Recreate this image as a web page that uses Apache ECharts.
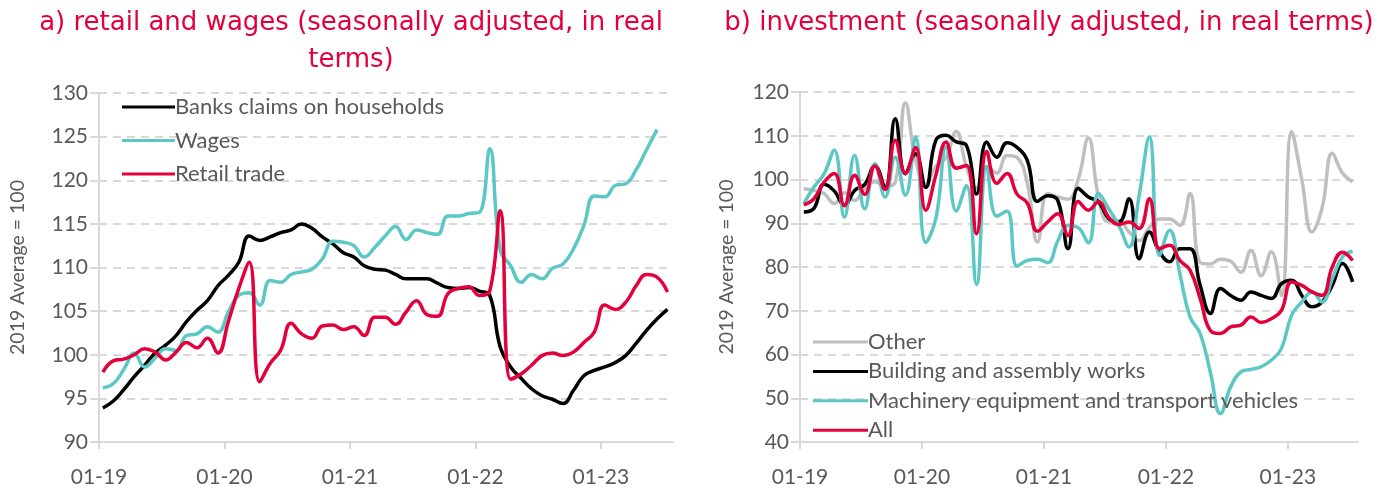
<!DOCTYPE html>
<html>
<head>
<meta charset="utf-8">
<script src="https://cdn.jsdelivr.net/npm/echarts@6/dist/echarts.min.js"></script>
<style>
  html, body { margin: 0; padding: 0; background: #fff; }
  #chart { width: 1386px; height: 488px; }
</style>
</head>
<body>
<div id="chart"></div>
<script>
// monthly observations, 01-19 .. 07-23
const months = [
  '01-19','02-19','03-19','04-19','05-19','06-19','07-19','08-19','09-19','10-19','11-19','12-19',
  '01-20','02-20','03-20','04-20','05-20','06-20','07-20','08-20','09-20','10-20','11-20','12-20',
  '01-21','02-21','03-21','04-21','05-21','06-21','07-21','08-21','09-21','10-21','11-21','12-21',
  '01-22','02-22','03-22','04-22','05-22','06-22','07-22','08-22','09-22','10-22','11-22','12-22',
  '01-23','02-23','03-23','04-23','05-23','06-23','07-23'
];
const tickLabels = ['01-19', '01-20', '01-21', '01-22', '01-23'];

// a) retail and wages
const banksClaims = [93.9, 94.7, 96.0, 97.5, 98.8, 100.2, 101.1, 102.2, 103.8, 105.1,
  106.2, 107.9, 109.1, 110.6, 113.6, 113.1, 113.5, 114.0, 114.3, 115.0,
  114.5, 113.5, 112.7, 111.7, 111.2, 110.2, 109.8, 109.7, 109.2, 108.7,
  108.7, 108.7, 108.2, 107.7, 107.6, 107.7, 107.3, 106.8, 100.9, 98.6,
  97.3, 96.1, 95.3, 94.9, 94.4, 95.9, 97.6, 98.2, 98.6, 99.1,
  99.9, 101.3, 102.8, 104.1, 105.2];
const wages = [96.2, 96.7, 98.3, 100.2, 98.6, 99.6, 100.7, 100.5, 102.2, 102.4,
  103.2, 102.6, 104.9, 106.8, 107.1, 105.7, 108.5, 108.3, 109.2, 109.5,
  109.8, 111.0, 113.0, 112.9, 112.5, 111.2, 112.3, 113.6, 114.7, 113.2,
  114.3, 114.0, 113.8, 115.9, 115.9, 116.2, 116.3, 123.6, 112.0, 110.2,
  108.3, 109.2, 108.7, 109.9, 110.4, 112.1, 114.8, 118.2, 118.1, 119.4,
  119.6, 121.2, 123.5, 125.8];
const retail = [98.0, 99.3, 99.5, 100.0, 100.7, 100.3, 99.4, 100.3, 101.4, 100.8,
  101.9, 100.2, 103.8, 107.6, 110.6, 96.9, 99.0, 100.5, 103.6, 102.4,
  101.9, 103.3, 103.4, 102.9, 103.2, 102.2, 104.3, 104.3, 103.5, 104.9,
  106.2, 104.6, 104.4, 107.0, 107.6, 107.8, 106.8, 107.3, 116.5, 97.2,
  97.8, 98.8, 99.9, 100.2, 99.9, 100.3, 101.4, 102.6, 105.7, 105.2,
  106.0, 107.9, 109.2, 108.9, 107.2];

// b) investment
const other = [97.9, 97.5, 96.8, 94.5, 97.0, 95.2, 98.0, 99.5, 98.5, 99.4,
  117.5, 104.5, 99.0, 103.0, 105.0, 111.0, 103.0, 98.0, 103.0, 101.5,
  105.5, 105.0, 99.0, 85.7, 96.8, 96.0, 95.5, 100.0, 109.5, 96.0,
  90.3, 90.5, 88.0, 86.0, 89.0, 91.0, 91.0, 89.5, 96.8, 81.0,
  80.7, 81.8, 81.3, 78.8, 83.8, 78.0, 83.5, 73.5, 110.9, 100.0,
  88.0, 93.5, 106.0, 101.5, 99.5];
const building = [92.6, 93.4, 98.9, 97.4, 94.1, 97.5, 98.9, 103.2, 98.1, 113.9,
  101.3, 105.9, 98.2, 109.0, 110.1, 108.6, 107.8, 96.7, 108.6, 105.1,
  108.4, 107.3, 104.3, 95.0, 96.3, 95.2, 84.2, 98.0, 96.0, 94.9,
  91.1, 90.3, 95.6, 81.9, 88.0, 83.4, 81.2, 84.2, 84.2, 75.8,
  69.4, 75.1, 73.5, 72.4, 74.3, 73.5, 72.8, 76.2, 77.0, 73.5,
  70.9, 72.0, 75.8, 80.8, 76.6];
const machinery = [94.5, 98.3, 101.3, 106.7, 91.4, 105.5, 93.3, 103.6, 96.0, 105.1,
  96.4, 109.7, 85.6, 91.1, 107.5, 92.8, 98.6, 76.0, 103.0, 91.6,
  92.8, 80.2, 81.5, 81.8, 81.0, 86.0, 89.5, 89.0, 85.5, 96.8,
  93.3, 89.5, 84.6, 96.4, 109.7, 82.7, 88.4, 78.5, 68.6, 64.8,
  56.0, 46.5, 52.6, 56.0, 56.6, 57.2, 58.7, 61.4, 69.0, 72.0,
  74.3, 72.0, 77.3, 82.3, 83.6];
const allInvestment = [94.2, 95.6, 99.4, 101.4, 94.0, 101.0, 96.6, 103.1, 97.7, 109.0,
  101.4, 107.3, 93.0, 101.0, 108.6, 102.6, 103.2, 87.6, 106.4, 99.1,
  101.4, 96.6, 94.6, 88.2, 90.3, 92.2, 87.2, 95.0, 93.0, 94.9,
  91.4, 89.7, 90.3, 88.8, 95.6, 84.2, 85.0, 81.5, 79.3, 72.8,
  65.5, 64.8, 66.3, 66.7, 68.6, 67.3, 68.2, 70.1, 76.6, 75.8,
  74.3, 73.5, 80.0, 83.4, 81.5];

// observations are stamped a little after the start of their month
const midMonth = 0.37;
const xMax = 54.9;

const RED = '#E4003B';
const TEAL = '#5CC8C6';
const GREY_TEXT = '#595959';
const GRID_LINE = '#D9D9D9';

function toPoints(values) {
  return values.map((v, i) => [i + midMonth, v]);
}

function xAxisFor(gridIndex) {
  return {
    type: 'value', gridIndex: gridIndex, min: 0, max: xMax,
    axisLine: { show: true, lineStyle: { color: GRID_LINE, width: 2 } },
    axisTick: { show: true, length: 7, customValues: [0, 12, 24, 36, 48], lineStyle: { color: GRID_LINE, width: 2 } },
    axisLabel: {
      customValues: [0, 12, 24, 36, 48],
      formatter: (v) => tickLabels[Math.round(v / 12)],
      color: GREY_TEXT, fontSize: 21, fontFamily: 'Lato', margin: 25
    },
    splitLine: { show: false }
  };
}

function yAxisFor(gridIndex, min, max, interval, nameGap) {
  return {
    type: 'value', gridIndex: gridIndex, min: min, max: max, interval: interval,
    name: '2019 Average = 100', nameLocation: 'middle', nameGap: nameGap,
    nameTextStyle: { color: GREY_TEXT, fontSize: 19.5, fontFamily: 'Lato' },
    axisLine: { show: true, lineStyle: { color: GRID_LINE, width: 2 } },
    axisTick: { show: true, length: 9, lineStyle: { color: GRID_LINE, width: 2 } },
    axisLabel: { color: GREY_TEXT, fontSize: 21, fontFamily: 'Lato', margin: 11 },
    splitLine: { show: true, lineStyle: { color: GRID_LINE, width: 2, type: [8, 6] } }
  };
}

function line(name, values, color, idx) {
  return {
    name: name, type: 'line', xAxisIndex: idx, yAxisIndex: idx,
    data: toPoints(values), smooth: 0.45, showSymbol: false,
    lineStyle: { color: color, width: 3.5 }, itemStyle: { color: color }
  };
}

const legendText = { color: GREY_TEXT, fontSize: 22, fontFamily: 'Lato', lineHeight: 21, padding: [0, 0, 0, -5] };

const chart = echarts.init(document.getElementById('chart'), null, { renderer: 'canvas' });
chart.setOption({
  animation: false,
  backgroundColor: '#fff',
  title: [
    {
      text: 'a) retail and wages (seasonally adjusted, in real\nterms)',
      left: 346, top: 0, textAlign: 'center',
      textStyle: { color: RED, fontSize: 26, fontWeight: 'normal', fontFamily: 'DejaVu Sans', lineHeight: 37 }
    },
    {
      text: 'b) investment (seasonally adjusted, in real terms)',
      left: 1044, top: 0, textAlign: 'center',
      textStyle: { color: RED, fontSize: 26, fontWeight: 'normal', fontFamily: 'DejaVu Sans', lineHeight: 37 }
    }
  ],
  legend: [
    {
      data: ['Banks claims on households', 'Wages', 'Retail trade'],
      orient: 'vertical', left: 117, top: 91, itemGap: 11.5,
      icon: 'rect', itemWidth: 53, itemHeight: 3,
      textStyle: legendText
    },
    {
      data: ['Other', 'Building and assembly works', 'Machinery equipment and transport vehicles', 'All'],
      orient: 'vertical', left: 808, top: 326, itemGap: 7.4,
      icon: 'rect', itemWidth: 55, itemHeight: 3,
      textStyle: legendText
    }
  ],
  grid: [
    { left: 99, top: 93, width: 574, height: 350 },
    { left: 800, top: 92, width: 558, height: 350 }
  ],
  xAxis: [xAxisFor(0), xAxisFor(1)],
  yAxis: [yAxisFor(0, 90, 130, 5, 71), yAxisFor(1, 40, 120, 10, 63)],
  series: [
    line('Banks claims on households', banksClaims, '#000000', 0),
    line('Wages', wages, TEAL, 0),
    line('Retail trade', retail, RED, 0),
    line('Other', other, '#BFBFBF', 1),
    line('Building and assembly works', building, '#000000', 1),
    line('Machinery equipment and transport vehicles', machinery, TEAL, 1),
    line('All', allInvestment, RED, 1)
  ]
});
</script>
</body>
</html>
